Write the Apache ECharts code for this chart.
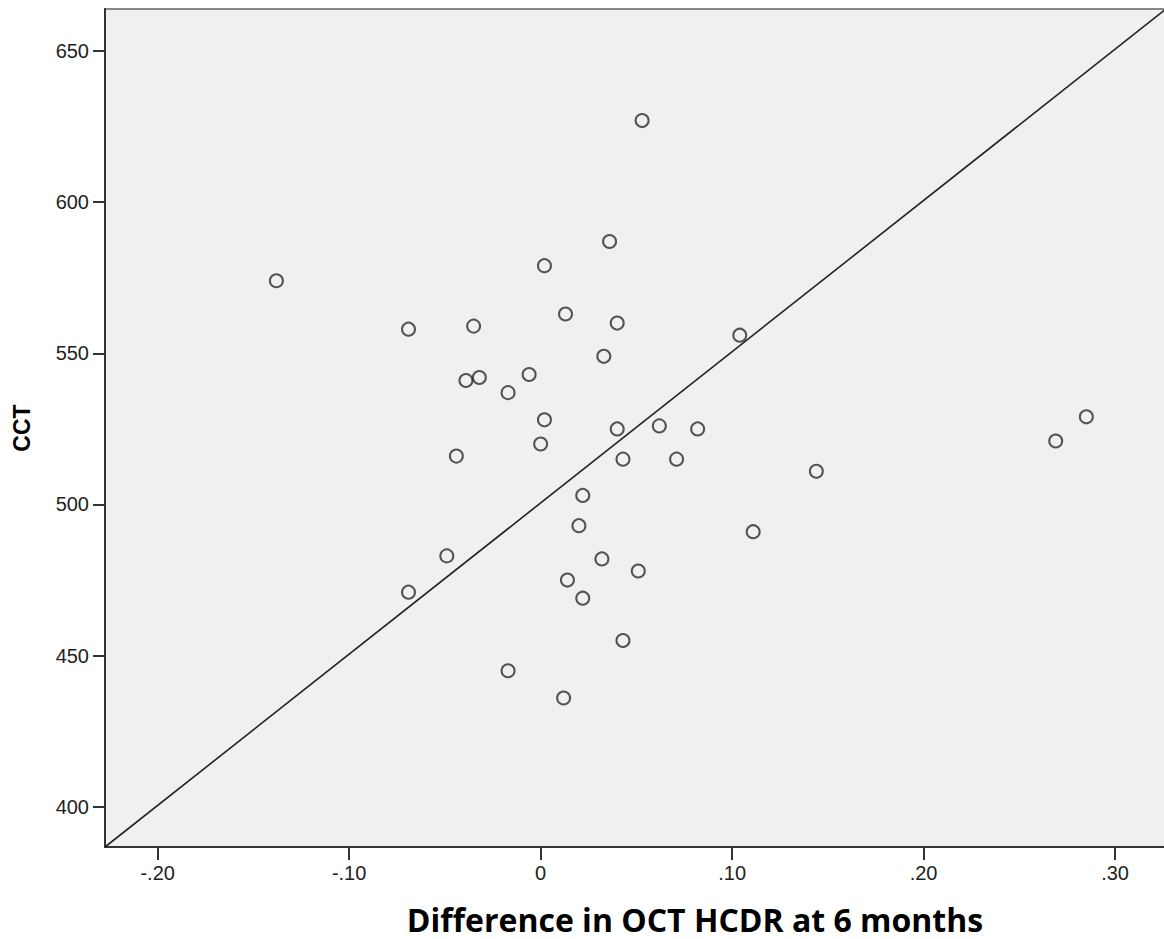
<!DOCTYPE html>
<html>
<head>
<meta charset="utf-8">
<script src="https://cdn.jsdelivr.net/npm/echarts@6/dist/echarts.min.js"></script>
<style>
  html, body { margin: 0; padding: 0; background: #fff; }
  #chart { width: 1164px; height: 939px; }
</style>
</head>
<body>
<div id="chart"></div>
<script>
// values
const hcdrDiff = [0.053, 0.036, 0.002, -0.138, 0.013, -0.069, -0.035, 0.040, 0.104, 0.033,
  -0.006, -0.039, -0.032, -0.017, 0.002, 0.040, 0.062, 0.082, 0.285, 0.269,
  0.000, -0.044, 0.043, 0.071, 0.144, 0.022, 0.020, 0.111, -0.049, 0.032,
  0.051, -0.069, 0.014, 0.022, 0.043, -0.017, 0.012];
const cct = [627, 587, 579, 574, 563, 558, 559, 560, 556, 549,
  543, 541, 542, 537, 528, 525, 526, 525, 529, 521,
  520, 516, 515, 515, 511, 503, 493, 491, 483, 482,
  478, 471, 475, 469, 455, 445, 436];

const xTicks = [-0.2, -0.1, 0, 0.1, 0.2, 0.3];
const yTicks = [400, 450, 500, 550, 600, 650];
const xRange = [-0.2275, 0.3266];
const yRange = [386.7, 663.9];
// reference line, corner to corner
const refLine = [[xRange[0], yRange[0]], [xRange[1], yRange[1]]];

const points = hcdrDiff.map((x, i) => [x, cct[i]]);

function fmtX(v) {
  if (Math.abs(v) < 1e-9) return '0';
  return v.toFixed(2).replace('0.', '.');
}

const chart = echarts.init(document.getElementById('chart'), null, {renderer: 'svg'});
chart.setOption({
  animation: false,
  backgroundColor: '#ffffff',
  grid: {
    left: 105, right: -2, top: 9, bottom: 92,
    outerBoundsMode: 'none',
    containLabel: false,
    show: true,
    backgroundColor: '#f0f0f0',
    borderColor: '#888',
    borderWidth: 2
  },
  xAxis: {
    type: 'value',
    min: xRange[0], max: xRange[1],
    name: 'Difference in OCT HCDR at 6 months',
    nameLocation: 'middle',
    nameGap: 55,
    nameTextStyle: {
      fontFamily: 'Open Sans', fontWeight: 'bold', fontSize: 32, lineHeight: 34, color: '#000',
      padding: [0, 0, 0, 119]
    },
    axisLine: { show: true, onZero: false, lineStyle: { color: '#333', width: 2 } },
    axisTick: { show: true, length: 13, customValues: xTicks, lineStyle: { color: '#333', width: 2 } },
    axisLabel: {
      customValues: xTicks, formatter: fmtX, margin: 16,
      fontFamily: 'Liberation Sans, Arial', fontSize: 20, color: '#222'
    },
    splitLine: { show: false }
  },
  yAxis: {
    type: 'value',
    min: yRange[0], max: yRange[1],
    name: 'CCT',
    nameLocation: 'middle',
    nameGap: 72,
    nameTextStyle: { fontFamily: 'Liberation Sans, Arial', fontWeight: 'bold', fontSize: 23, color: '#000' },
    axisLine: { show: true, onZero: false, lineStyle: { color: '#333', width: 2 } },
    axisTick: { show: true, length: 12, customValues: yTicks, lineStyle: { color: '#333', width: 2 } },
    axisLabel: {
      customValues: yTicks, margin: 16,
      fontFamily: 'Liberation Sans, Arial', fontSize: 20, color: '#222'
    },
    splitLine: { show: false }
  },
  series: [
    {
      type: 'line',
      data: refLine,
      symbol: 'none',
      silent: true,
      lineStyle: { color: '#222', width: 1.6 }
    },
    {
      type: 'scatter',
      data: points,
      symbol: 'circle',
      symbolSize: 13,
      itemStyle: { color: 'rgba(0,0,0,0)', borderColor: '#2a2a2a', borderWidth: 2 }
    }
  ]
});
</script>
</body>
</html>
